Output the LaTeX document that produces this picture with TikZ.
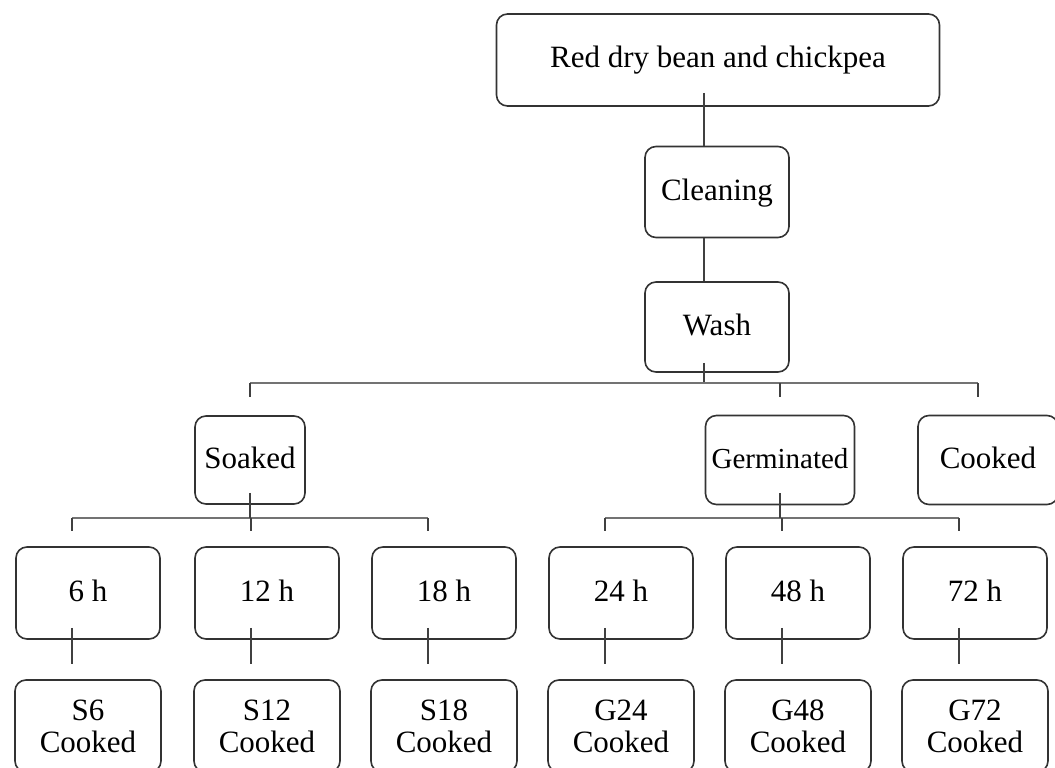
\documentclass[tikz,border=0pt]{standalone}
\usepackage{fontspec}
\setmainfont{Liberation Serif}

\tikzset{
  box/.style={draw=black!80, line width=1.6pt, rounded corners=11pt, inner sep=0pt,
    align=center, font=\fontsize{31}{32}\selectfont},
  tbox/.style={box, text height=21pt, text depth=5pt},
  link/.style={draw=black!75, line width=1.4pt},
  bus/.style={draw=black!55, line width=2.8pt},
}

\begin{document}
\begin{tikzpicture}[x=1pt,y=-1pt]
\clip (0,0) rectangle (1055,768);
\node at (718,60)[tbox, minimum width=443pt, minimum height=92pt] (top) {Red dry bean and chickpea};
\node at (717,192)[tbox, minimum width=144pt, minimum height=91pt] (clean) {Cleaning};
\node at (717,327)[tbox, minimum width=144pt, minimum height=90pt] (wash) {Wash};
\node at (250,460)[tbox, minimum width=110pt, minimum height=88pt] (soak) {Soaked};
\node at (780,460)[tbox, minimum width=149pt, minimum height=89pt, font=\fontsize{29}{32}\selectfont] (germ) {Germinated};
\node at (988,460)[tbox, minimum width=140pt, minimum height=89pt] (cook) {Cooked};
\coordinate (spine) at (704,383);
\coordinate (kc) at (978,383);
\draw[link, shorten <=-14pt] (top.south -| spine) -- (clean.north -| spine);
\draw[link] (clean.south -| spine) -- (wash.north -| spine);
\draw[link, shorten <=-10pt] (wash.south -| spine) -- (spine);
\draw[bus] (soak.north |- spine) -- (kc);
\draw[link, shorten >=18pt] (soak.north |- spine) -- (soak.north);
\draw[link, shorten >=18pt] (germ.north |- spine) -- (germ.north);
\draw[link, shorten >=18pt] (kc) -- (kc |- cook.north);
% hours and cooked samples
\foreach \t/\x/\lab in {6/88/S6, 12/267/S12, 18/444/S18, 24/621/G24, 48/798/G48, 72/975/G72}{
  \node at (\x,593)[tbox, minimum width=144pt, minimum height=92pt] (h\t) {\t~h};
  \node at (\x,726)[box, minimum width=146pt, minimum height=92pt] (c\t) {\lab\\Cooked};
  \coordinate (k\t) at ({\x-16},518);
}
\draw[bus] (k6) -- (k18);
\draw[bus] (k24) -- (k72);
\draw[link, shorten <=-12pt] (soak.south) -- (soak.south |- k6);
\draw[link, shorten <=-12pt] (germ.south) -- (germ.south |- k24);
\foreach \t in {6,12,18,24,48,72}{
  \draw[link, shorten >=15pt] (k\t) -- (k\t |- h\t.north);
  \draw[link, shorten <=-12pt, shorten >=15pt] (k\t |- h\t.south) -- (k\t |- c\t.north);
}
\end{tikzpicture}
\end{document}
